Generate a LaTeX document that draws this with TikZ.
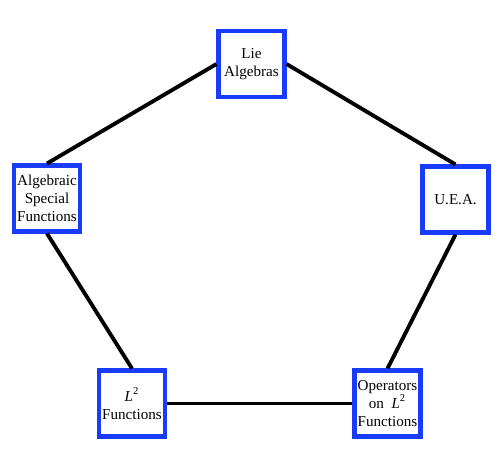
\documentclass[tikz,border=0pt]{standalone}
\usepackage{fontspec}
\setmainfont{Liberation Serif}
\usetikzlibrary{calc}

\definecolor{boxblue}{RGB}{25,60,250}

\begin{document}
\begin{tikzpicture}[
  topic/.style={draw=boxblue, line width=2.3pt, minimum size=1.32cm, inner sep=1pt,
    align=center, font=\fontsize{8.6}{10.2}\selectfont},
  link/.style={line width=2.2pt}]
\useasboundingbox (0,0) rectangle (10.08,-9.26);

% the five boxes
\node[topic] (lie) at (5.03,-1.28) {Lie\\Algebras};
\node[topic] (alg) at (0.94,-3.97) {Algebraic\\Special\\Functions};
\node[topic] (uea) at (9.11,-3.99) {U.E.A.};
\node[topic] (ltwo) at (2.64,-8.07) {\textit{L}\textsuperscript{2}\\Functions};
\node[topic] (ops) at (7.75,-8.07) {Operators\\on~~\textit{L}\textsuperscript{2}\\Functions};

% connections
\draw[link] (lie.west) -- (alg.north);
\draw[link] (lie.east) -- (uea.north);
\draw[link] (alg.south) -- (ltwo.north);
\draw[link] (uea.south) -- (ops.north);
\draw[link] (ltwo.east) -- (ops.west);

\end{tikzpicture}
\end{document}
